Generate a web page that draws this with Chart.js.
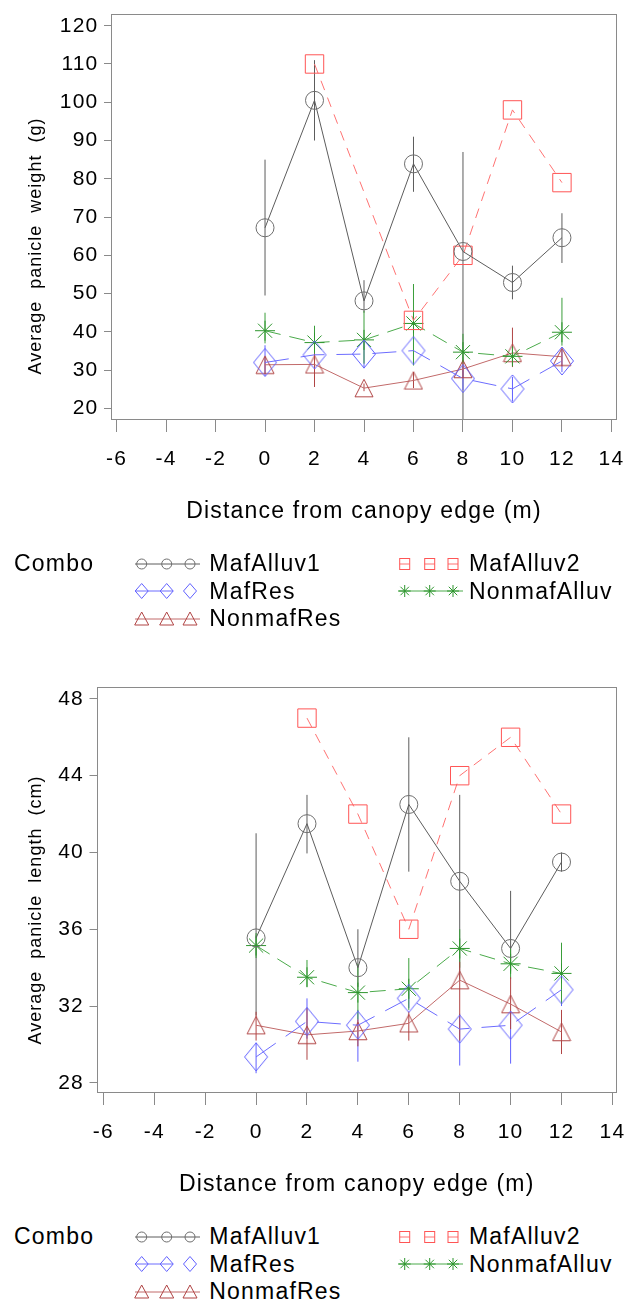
<!DOCTYPE html>
<html>
<head>
<meta charset="utf-8">
<script src="https://cdn.jsdelivr.net/npm/chart.js@4.4.1/dist/chart.umd.min.js"></script>
<style>
html,body{margin:0;padding:0;background:#fff;}
body{position:relative;width:631px;height:1306px;overflow:hidden;font-family:'Liberation Sans',Arial,sans-serif;color:#000;}
canvas.chart{position:absolute;left:0;}
.ytitle{position:absolute;left:35px;font-size:18px;line-height:18px;letter-spacing:1px;word-spacing:6px;white-space:nowrap;transform:translate(-50%,-50%) rotate(-90deg);}
.lg{position:absolute;font-size:23px;line-height:23px;letter-spacing:1.2px;white-space:nowrap;}
.sw{position:absolute;overflow:visible;}
</style>
</head>
<body>
<canvas id="c1" class="chart" width="631" height="535" style="top:0px"></canvas>
<canvas id="c2" class="chart" width="631" height="535" style="top:673px"></canvas>
<div id="yt1" class="ytitle" style="top:246px"></div>
<div id="yt2" class="ytitle" style="top:910px"></div>
<div id="legends"></div>
<script>
// ---------------- DATA ----------------
const distances = [0, 2, 4, 6, 8, 10, 12];
const xTickValues = [-6, -4, -2, 0, 2, 4, 6, 8, 10, 12, 14];
const weightTicks = [20, 30, 40, 50, 60, 70, 80, 90, 100, 110, 120];
const lengthTicks = [28, 32, 36, 40, 44, 48];
const seriesNames = ['MafAlluv1', 'MafAlluv2', 'MafRes', 'NonmafAlluv', 'NonmafRes'];
const legendTitle = 'Combo';
const xTitle = 'Distance from canopy edge (m)';
const weightTitle = 'Average panicle weight (g)';
const lengthTitle = 'Average panicle length (cm)';

// Average panicle weight (g)
const weightMafAlluv1      = [67.2, 100.5, 48.1, 83.9, 61.0, 52.9, 64.6];
const weightMafAlluv1Low   = [49.5, 90.0, 45.0, 76.6, 15.0, 48.5, 58.0];
const weightMafAlluv1High  = [85.0, 111.0, 53.5, 91.0, 87.0, 57.3, 71.0];
const weightMafAlluv2      = [null, 110.0, null, 43.0, 60.0, 98.0, 79.0];
const weightMafRes         = [32.0, 34.0, 34.2, 35.1, 27.8, 25.1, 32.4];
const weightMafResLow      = [28.5, 31.0, 30.5, 32.0, 24.8, 21.8, 29.5];
const weightMafResHigh     = [36.5, 37.0, 38.5, 38.0, 31.0, 28.2, 35.5];
const weightNonmafAlluv     = [40.3, 37.2, 37.9, 42.2, 34.7, 33.6, 39.9];
const weightNonmafAlluvLow  = [37.0, 33.0, 31.7, 31.2, 31.7, 31.5, 36.4];
const weightNonmafAlluvHigh = [45.0, 41.6, 45.5, 52.5, 39.5, 36.0, 48.9];
const weightNonmafRes      = [31.4, 31.5, 25.3, 27.3, 30.3, 34.5, 33.5];
const weightNonmafResLow   = [29.0, 25.6, 24.5, 25.3, 28.0, 30.8, 31.0];
const weightNonmafResHigh  = [33.5, 34.3, 26.5, 29.5, 32.5, 41.1, 35.5];

// Average panicle length (cm)
const lengthMafAlluv1      = [35.55, 41.5, 34.0, 42.5, 38.5, 35.0, 39.5];
const lengthMafAlluv1Low   = [31.5, 39.95, 33.0, 39.0, 33.3, 33.8, 39.0];
const lengthMafAlluv1High  = [41.0, 43.0, 36.0, 46.0, 43.0, 38.0, 40.0];
const lengthMafAlluv2      = [null, 47.0, 42.0, 36.0, 44.0, 46.0, 42.0];
const lengthMafRes         = [29.35, 31.2, 31.0, 32.4, 30.8, 31.0, 32.85];
const lengthMafResLow      = [28.5, 30.3, 29.1, 31.9, 28.9, 29.0, 32.0];
const lengthMafResHigh     = [30.1, 32.4, 31.8, 33.1, 31.6, 31.7, 33.6];
const lengthNonmafAlluv     = [35.15, 33.5, 32.7, 32.9, 35.0, 34.2, 33.7];
const lengthNonmafAlluvLow  = [34.5, 33.0, 31.3, 31.8, 34.0, 33.4, 32.1];
const lengthNonmafAlluvHigh = [35.8, 34.4, 34.2, 34.5, 36.0, 35.0, 35.3];
const lengthNonmafRes      = [31.0, 30.5, 30.7, 31.1, 33.35, 32.1, 30.65];
const lengthNonmafResLow   = [30.2, 29.2, 29.9, 30.2, 30.2, 30.8, 29.5];
const lengthNonmafResHigh  = [31.7, 31.9, 31.3, 31.7, 34.3, 33.5, 31.8];

// ---------------- STYLE ----------------
Chart.defaults.font.family = "'Liberation Sans', Arial, sans-serif";
Chart.defaults.color = '#000';

function makeMarker(w, h, color, drawPath) {
  const c = document.createElement('canvas');
  c.width = w; c.height = h;
  const g = c.getContext('2d');
  g.strokeStyle = color; g.lineWidth = 1;
  g.beginPath(); drawPath(g); g.closePath(); g.stroke();
  return c;
}
const COL = {
  MafAlluv1:   {line: '#5c5c5c', mark: '#6e6e6e', err: '#5c5c5c'},
  MafAlluv2:   {line: '#ff7272', mark: '#ff5555', err: '#ff5555'},
  MafRes:      {line: '#6c6cff', mark: '#6060ff', err: '#6060ff'},
  NonmafAlluv: {line: '#4aaa4a', mark: '#2e962e', err: '#3a9e3a'},
  NonmafRes:   {line: '#c26a6a', mark: '#b04444', err: '#b04444'}
};
const diamondImg = makeMarker(26, 30, COL.MafRes.mark, g => { g.moveTo(13, 1); g.lineTo(24.5, 15); g.lineTo(13, 29); g.lineTo(1.5, 15); });
const triangleImg = makeMarker(20, 20, COL.NonmafRes.mark, g => { g.moveTo(10, 1.25); g.lineTo(19, 18.75); g.lineTo(1, 18.75); });

const STYLE = {
  MafAlluv1:   {dash: [],       point: 'circle',    r: 9,  legendLine: 'full',   legendMark: 'circle'},
  MafAlluv2:   {dash: [10, 8],  point: 'rect',      r: 13, legendLine: 'inside', legendMark: 'square'},
  MafRes:      {dash: [24, 12], point: diamondImg,  r: 12, legendLine: 'firstTwo', legendMark: 'diamond'},
  NonmafAlluv: {dash: [16, 9],  point: 'star',      r: 10, legendLine: 'full',   legendMark: 'star'},
  NonmafRes:   {dash: [],       point: triangleImg, r: 10, legendLine: 'full',   legendMark: 'triangle'}
};

// ---------------- PLUGIN ----------------
const LETTER_SPACING = '1.2px';
const framePlugin = {
  id: 'frameAndErrors',
  beforeUpdate(chart) { chart.ctx.letterSpacing = LETTER_SPACING; },
  beforeDraw(chart) { chart.ctx.letterSpacing = LETTER_SPACING; },
  beforeDatasetsDraw(chart) {
    const {ctx, chartArea: a, scales: {x, y}} = chart;
    ctx.save();
    ctx.beginPath(); ctx.rect(a.left, a.top, a.right - a.left, a.bottom - a.top); ctx.clip();
    ctx.lineWidth = 1; ctx.setLineDash([]);
    chart.data.datasets.forEach(ds => {
      if (!ds.errLow) return;
      ctx.strokeStyle = ds.errColor;
      distances.forEach((d, i) => {
        const lo = ds.errLow[i], hi = ds.errHigh[i];
        if (lo == null || hi == null) return;
        const px = x.getPixelForValue(d);
        ctx.beginPath();
        ctx.moveTo(px, y.getPixelForValue(lo));
        ctx.lineTo(px, y.getPixelForValue(hi));
        ctx.stroke();
      });
    });
    ctx.restore();
  },
  afterDraw(chart) {
    const {ctx, chartArea: a} = chart;
    ctx.save();
    ctx.strokeStyle = '#8a8a8a'; ctx.lineWidth = 1; ctx.setLineDash([]);
    const l = Math.round(a.left) + 0.5, t = Math.round(a.top) + 0.5;
    const r = Math.round(a.right) - 0.5, b = Math.round(a.bottom) - 0.5;
    ctx.strokeRect(l, t, r - l, b - t);
    ctx.restore();
  }
};

function buildChart(canvasId, opt) {
  const datasets = seriesNames.map((name, k) => {
    const st = STYLE[name], c = COL[name];
    const vals = opt.values[k];
    return {
      label: name,
      data: distances.map((d, i) => ({x: d, y: vals[i]})),
      borderColor: c.line, borderWidth: 1, borderDash: st.dash,
      fill: false, tension: 0, spanGaps: true,
      pointStyle: st.point, pointRadius: st.r,
      pointBorderColor: c.mark, pointBackgroundColor: 'rgba(0,0,0,0)', pointBorderWidth: 1,
      errLow: opt.lows[k], errHigh: opt.highs[k], errColor: c.err
    };
  });
  return new Chart(document.getElementById(canvasId), {
    type: 'line',
    data: {datasets},
    plugins: [framePlugin],
    options: {
      responsive: false, animation: false, devicePixelRatio: 1, events: [],
      layout: {padding: {left: 0, right: 11, top: 10.5, bottom: 0}},
      plugins: {legend: {display: false}, tooltip: {enabled: false}},
      scales: {
        x: {
          type: 'linear', min: opt.xMin, max: opt.xMax,
          afterBuildTicks: s => { s.ticks = xTickValues.map(v => ({value: v})); },
          ticks: {color: '#000', font: {size: 21}, padding: 15, autoSkip: false, maxRotation: 0, callback: v => String(v)},
          grid: {drawOnChartArea: false, drawTicks: true, tickLength: 12, color: '#8a8a8a', lineWidth: 1},
          border: {display: false},
          title: {display: true, text: xTitle, color: '#000', font: {size: 23}, padding: {top: 0, bottom: 9.5}},
          afterFit: s => { s.height = 115; s.paddingLeft = 0; s.paddingRight = 0; }
        },
        y: {
          type: 'linear', min: opt.yMin, max: opt.yMax,
          afterBuildTicks: s => { s.ticks = opt.yTicks.map(v => ({value: v})); },
          ticks: {color: '#000', font: {size: 21}, padding: 5.5, autoSkip: false, callback: v => String(v)},
          grid: {drawOnChartArea: false, drawTicks: true, tickLength: 7, color: '#8a8a8a', lineWidth: 1},
          border: {display: false},
          afterFit: s => { s.width = opt.yWidth; s.paddingTop = 0; s.paddingBottom = 0; }
        }
      }
    }
  });
}

buildChart('c1', {
  xMin: -6.225, xMax: 14.225, yMin: 16.97, yMax: 123.06, yTicks: weightTicks, yWidth: 111,
  values: [weightMafAlluv1, weightMafAlluv2, weightMafRes, weightNonmafAlluv, weightNonmafRes],
  lows:   [weightMafAlluv1Low, null, weightMafResLow, weightNonmafAlluvLow, weightNonmafResLow],
  highs:  [weightMafAlluv1High, null, weightMafResHigh, weightNonmafAlluvHigh, weightNonmafResHigh]
});
buildChart('c2', {
  xMin: -6.27, xMax: 14.18, yMin: 27.47, yMax: 48.62, yTicks: lengthTicks, yWidth: 96.5,
  values: [lengthMafAlluv1, lengthMafAlluv2, lengthMafRes, lengthNonmafAlluv, lengthNonmafRes],
  lows:   [lengthMafAlluv1Low, null, lengthMafResLow, lengthNonmafAlluvLow, lengthNonmafResLow],
  highs:  [lengthMafAlluv1High, null, lengthMafResHigh, lengthNonmafAlluvHigh, lengthNonmafResHigh]
});

document.getElementById('yt1').textContent = weightTitle;
document.getElementById('yt2').textContent = lengthTitle;

// ---------------- LEGENDS (HTML) ----------------
function markerSVG(kind, cx, cy, color) {
  const s = `fill="none" stroke="${color}" stroke-width="1"`;
  if (kind === 'circle') return `<circle cx="${cx}" cy="${cy}" r="5" ${s}/>`;
  if (kind === 'square') return `<rect x="${cx - 5}" y="${cy - 5.5}" width="10" height="11" ${s}/>`;
  if (kind === 'diamond') return `<polygon points="${cx},${cy - 7.5} ${cx + 6.5},${cy} ${cx},${cy + 7.5} ${cx - 6.5},${cy}" ${s}/>`;
  if (kind === 'triangle') return `<polygon points="${cx},${cy - 7} ${cx + 7},${cy + 6} ${cx - 7},${cy + 6}" ${s}/>`;
  if (kind === 'star') {
    let p = '';
    for (let a = 0; a < 4; a++) {
      const ang = a * Math.PI / 4, dx = 6 * Math.cos(ang), dy = 6 * Math.sin(ang);
      p += `M${cx - dx},${cy - dy}L${cx + dx},${cy + dy}`;
    }
    return `<path d="${p}" ${s}/>`;
  }
  return '';
}
function sampleSVG(name) {
  const st = STYLE[name], c = COL[name];
  const x0 = 2, x1 = 67, cy = 12, mx = [8.7, 33.7, 57];
  let line = '';
  if (st.legendLine === 'full') line = `M${x0},${cy}H${x1}`;
  else if (st.legendLine === 'firstTwo') line = `M${x0},${cy}H${mx[1] + 6.5}`;
  else if (st.legendLine === 'inside') line = mx.map(m => `M${m - 5},${cy}H${m + 5}`).join('');
  let out = `<path d="${line}" stroke="${c.line}" stroke-width="1" fill="none"/>`;
  mx.forEach(m => { out += markerSVG(st.legendMark, m, cy, c.mark); });
  return `<svg width="70" height="24" viewBox="0 0 70 24">${out}</svg>`;
}
const legendRowCenters = [563.5, 591, 618.5];
const legendColSample = [133, 396];
const legendColText = [209.3, 469];
const panelOffsets = [0, 673];
let html = '';
panelOffsets.forEach(off => {
  html += `<div class="lg" style="left:14px;top:${off + legendRowCenters[0] - 11.3}px">${legendTitle}</div>`;
  seriesNames.forEach((name, i) => {
    const row = Math.floor(i / 2), col = i % 2;
    const cy = off + legendRowCenters[row];
    html += `<div class="sw" style="left:${legendColSample[col]}px;top:${cy - 12}px">${sampleSVG(name)}</div>`;
    html += `<div class="lg" style="left:${legendColText[col]}px;top:${cy - 11.3}px">${name}</div>`;
  });
});
document.getElementById('legends').innerHTML = html;
</script>
</body>
</html>
